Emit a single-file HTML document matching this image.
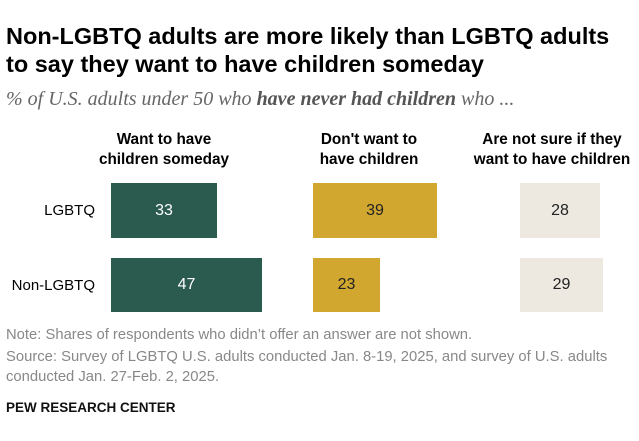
<!DOCTYPE html>
<html><head><style>
body{margin:0;width:639px;height:441px;background:#fff;font-family:"Liberation Sans",sans-serif;position:relative;overflow:hidden}
.a{position:absolute;white-space:nowrap}
.t{left:6px;font-weight:bold;font-size:23.5px;color:#000;line-height:28px}
.h{font-weight:bold;font-size:15.3px;text-align:center;line-height:20px;color:#000}
.b{position:absolute;display:flex;align-items:center;justify-content:center;font-size:16px}
.n{font-size:14.8px;color:#888;left:6px}
</style></head><body>
<div class="a t" style="top:22px">Non-LGBTQ adults are more likely than LGBTQ adults<br>to say they want to have children someday</div>
<div class="a" style="top:88px;left:6px;font-family:'Liberation Serif',serif;font-style:italic;font-size:20px;color:#666">% of U.S. adults under 50 who <b style="color:#555">have never had children</b> who ...</div>
<div class="a h" style="top:130px;left:79px;width:170px">Want to have<br>children someday</div>
<div class="a h" style="top:130px;left:284px;width:170px">Don't want to<br>have children</div>
<div class="a h" style="top:130px;left:452px;width:200px">Are not sure if they<br>want to have children</div>
<div class="a" style="top:202px;right:544px;font-size:15px">LGBTQ</div>
<div class="a" style="top:277px;right:544px;font-size:15px">Non-LGBTQ</div>
<div class="b" style="left:111px;top:183px;width:106px;height:55px;background:#2b5a4e;color:#fff">33</div>
<div class="b" style="left:111px;top:258px;width:151px;height:54px;background:#2b5a4e;color:#fff">47</div>
<div class="b" style="left:313px;top:183px;width:124px;height:55px;background:#d1a730;color:#222">39</div>
<div class="b" style="left:313px;top:258px;width:67px;height:54px;background:#d1a730;color:#222">23</div>
<div class="b" style="left:520px;top:183px;width:80px;height:55px;background:#ede9e0;color:#222">28</div>
<div class="b" style="left:520px;top:258px;width:83px;height:54px;background:#ede9e0;color:#222">29</div>
<div class="a n" style="top:327px">Note: Shares of respondents who didn’t offer an answer are not shown.</div>
<div class="a n" style="top:347px;line-height:20px">Source: Survey of LGBTQ U.S. adults conducted Jan. 8-19, 2025, and survey of U.S. adults<br>conducted Jan. 27-Feb. 2, 2025.</div>
<div class="a" style="top:400px;left:6px;font-weight:bold;font-size:13.5px;color:#111">PEW RESEARCH CENTER</div>
</body></html>
